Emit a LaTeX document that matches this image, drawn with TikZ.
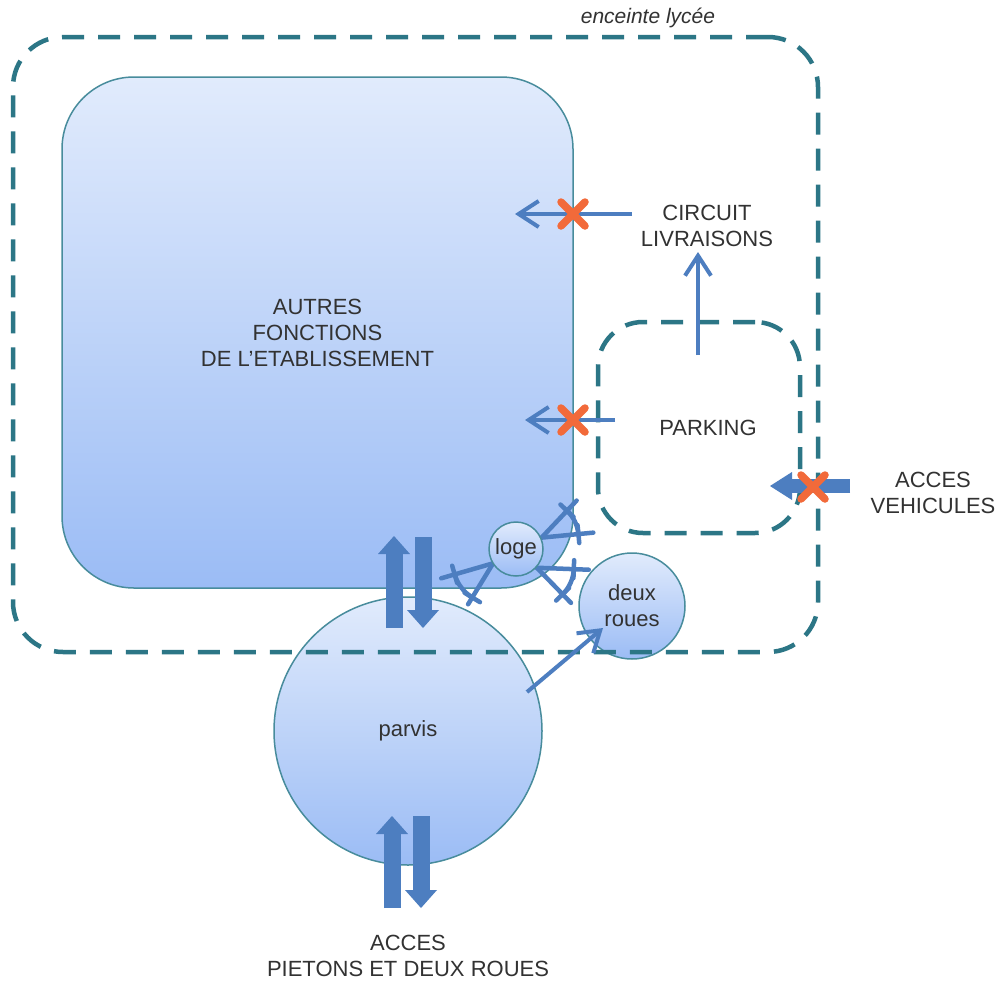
\documentclass[tikz,border=0pt]{standalone}
\usepackage{fontspec}
\setmainfont{Liberation Sans}
\usetikzlibrary{arrows.meta,calc}
\definecolor{fencecol}{RGB}{44,118,134}
\definecolor{edgecol}{RGB}{72,140,156}
\definecolor{arrblue}{RGB}{77,126,192}
\definecolor{xorange}{RGB}{242,106,58}
\definecolor{txtcol}{RGB}{50,50,50}
\definecolor{filltop}{RGB}{225,235,252}
\definecolor{fillbot}{RGB}{155,188,245}
\newcommand{\viewcone}[6]{%
  \draw[conestroke] (#1) -- ++(#2:#3);
  \draw[conestroke] (#1) -- ++(#4:#5);
  \draw[conestroke] (#1) ++(#2:#6) arc[start angle=#2, end angle=#4, radius=#6];
  \draw[conestroke] (#1) ++(#2:#6) ++(#2+90:9) -- ++(#2-90:18);
  \draw[conestroke] (#1) ++(#4:#6) ++(#4+90:9) -- ++(#4-90:18);
}
\begin{document}
\begin{tikzpicture}[x=1pt,y=-1pt,
  lbl/.style={text=txtcol, font=\fontsize{22}{26}\selectfont, align=center, inner sep=0pt},
  zone/.style={draw=edgecol, line width=1.5pt, top color=filltop, bottom color=fillbot},
  fence/.style={draw=fencecol, line width=4.5pt, dash pattern=on 22pt off 14pt},
  thinarr/.style={draw=arrblue, line width=4pt, -{Straight Barb[length=20pt,width=26pt]}},
  thickarr/.style={draw=arrblue, line width=17pt, -{Triangle[length=18pt,width=32pt,line width=0pt]}},
  conestroke/.style={draw=arrblue, line width=4.5pt, line cap=round},
  xmark/.pic={\draw[draw=xorange, line width=7.5pt, line cap=round] (-12,-12) -- (12,12) (-12,12) -- (12,-12);}
]
\useasboundingbox[fill=white] (0,0) rectangle (996,983);

% zones
\node[zone, lbl, rounded corners=72pt, minimum width=511pt, minimum height=511pt] (autres) at (317.5,332.5)
  {AUTRES\\FONCTIONS\\DE L’ETABLISSEMENT};
\node[zone, lbl, circle, minimum size=268pt] (parvis) at (408,731) {parvis};
\node[zone, lbl, circle, minimum size=106pt] (deux) at (632,606) {deux\\roues};

% view cones around the loge
\coordinate (loc) at (516,549);
\coordinate (cA) at ($(loc)+(212:27pt)$);
\coordinate (cB) at ($(loc)+(24:28pt)$);
\coordinate (cC) at ($(loc)+(318:28pt)$);
\viewcone{cA}{163.9}{54}{121.4}{48}{40}
\viewcone{cB}{-46.6}{51}{-5.5}{52}{37}
\viewcone{cC}{2.2}{52}{45.8}{49}{37}
\node[zone, lbl, circle, minimum size=54pt] (loge) at (loc) {loge};

% fences
\node[fence, rounded corners=50pt, minimum width=805pt, minimum height=615pt] (enceinte) at (415.5,344.5) {};
\node[lbl, font=\fontsize{21}{25}\selectfont\itshape] (enceinteLbl) at (648,18) {enceinte lycée};
\node[fence, rounded corners=45pt, minimum width=202pt, minimum height=211pt] (parking) at (699,427.5) {};
\node[lbl] (parkingLbl) at (708,428) {PARKING};
\node[lbl] (circuit) at (707,226) {CIRCUIT\\LIVRAISONS};
\node[lbl] (vehic) at (933,493) {ACCES\\VEHICULES};
\node[lbl] (pietons) at (408,956) {ACCES\\PIETONS ET DEUX ROUES};

% thin arrows
\coordinate (c1s) at (632,214); \coordinate (c1e) at (515,214);
\draw[thinarr] (c1s) -- (c1e);
\coordinate (p1s) at (615,420); \coordinate (p1e) at (525,420);
\draw[thinarr] (p1s) -- (p1e);
\coordinate (l1s) at (698,355); \coordinate (l1e) at (698,252);
\draw[thinarr] (l1s) -- (l1e);
\coordinate (r1s) at (527,692); \coordinate (r1e) at (603,628);
\draw[thinarr] (r1s) -- (r1e);

% thick arrows
\coordinate (u1s) at (394,628); \coordinate (u1e) at (394,536);
\coordinate (d1s) at (423,537); \coordinate (d1e) at (423,628);
\draw[thickarr] (u1s) -- (u1e);
\draw[thickarr] (d1s) -- (d1e);
\coordinate (u2s) at (392,908); \coordinate (u2e) at (392,816);
\coordinate (d2s) at (421,816); \coordinate (d2e) at (421,908);
\draw[thickarr] (u2s) -- (u2e);
\draw[thickarr] (d2s) -- (d2e);
\coordinate (v1s) at (850,486); \coordinate (v1e) at (770,486);
\draw[draw=arrblue, line width=14pt, -{Triangle[length=22pt,width=28pt,line width=0pt]}] (v1s) -- (v1e);

% crosses
\pic at (573,214) {xmark};
\pic at (573,420) {xmark};
\pic at (813,487) {xmark};
\end{tikzpicture}
\end{document}
